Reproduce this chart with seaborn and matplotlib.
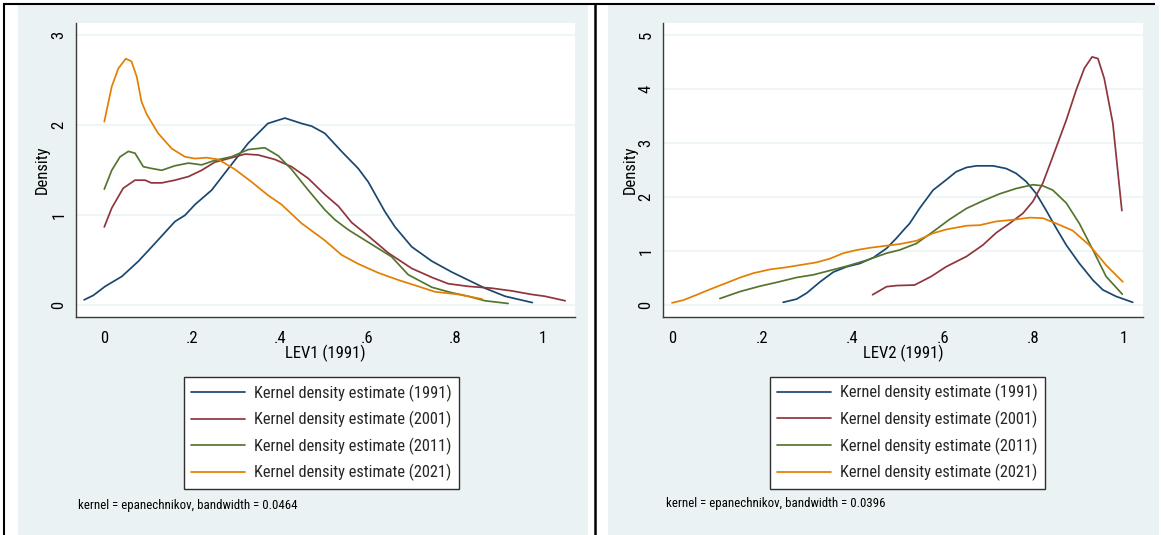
import matplotlib
matplotlib.use("Agg")
import matplotlib.pyplot as plt
from matplotlib.lines import Line2D
from matplotlib.patches import Rectangle
import pandas as pd
import seaborn as sns

# ---- data -------------------------------------------------------------
years = ["1991", "2001", "2011", "2021"]
colors = ["#1A476F", "#90353B", "#55752F", "#E37E00"]
legend_labels = [f"Kernel density estimate ({y})" for y in years]

x_ticks = [0, 0.2, 0.4, 0.6, 0.8, 1.0]
x_tick_labels = ["0", ".2", ".4", ".6", ".8", "1"]

# LEV1 (1991) densities
lev1_x_1991 = [-0.046, -0.025, 0.002, 0.040, 0.078, 0.116, 0.161, 0.184, 0.207, 0.245, 0.283,
               0.328, 0.373, 0.412, 0.450, 0.473, 0.503, 0.541, 0.579, 0.602, 0.640, 0.663,
               0.701, 0.747, 0.792, 0.830, 0.868, 0.914, 0.976]
lev1_y_1991 = [0.06, 0.11, 0.21, 0.32, 0.49, 0.69, 0.93, 1.00, 1.12, 1.28, 1.52,
               1.80, 2.02, 2.08, 2.02, 1.99, 1.91, 1.71, 1.52, 1.37, 1.04, 0.87,
               0.65, 0.49, 0.37, 0.28, 0.19, 0.10, 0.03]
lev1_x_2001 = [0.0, 0.017, 0.043, 0.070, 0.093, 0.107, 0.131, 0.161, 0.192, 0.222, 0.252,
               0.283, 0.321, 0.351, 0.389, 0.427, 0.465, 0.503, 0.534, 0.564, 0.602, 0.648,
               0.701, 0.747, 0.784, 0.830, 0.883, 0.929, 0.975, 1.005, 1.051]
lev1_y_2001 = [0.87, 1.08, 1.30, 1.39, 1.39, 1.36, 1.36, 1.39, 1.43, 1.50, 1.59,
               1.63, 1.68, 1.67, 1.62, 1.54, 1.41, 1.23, 1.10, 0.92, 0.77, 0.58,
               0.41, 0.31, 0.24, 0.21, 0.19, 0.16, 0.12, 0.10, 0.05]
lev1_x_2011 = [0.0, 0.017, 0.036, 0.055, 0.070, 0.089, 0.108, 0.131, 0.161, 0.192, 0.222,
               0.252, 0.290, 0.328, 0.366, 0.397, 0.427, 0.465, 0.503, 0.526, 0.556, 0.602,
               0.655, 0.693, 0.747, 0.792, 0.830, 0.868, 0.921]
lev1_y_2011 = [1.29, 1.50, 1.65, 1.71, 1.69, 1.54, 1.52, 1.50, 1.55, 1.58, 1.56,
               1.61, 1.65, 1.73, 1.75, 1.66, 1.51, 1.28, 1.06, 0.95, 0.84, 0.70,
               0.54, 0.34, 0.20, 0.14, 0.10, 0.05, 0.02]
lev1_x_2021 = [0.0, 0.017, 0.032, 0.049, 0.062, 0.074, 0.085, 0.097, 0.123, 0.154, 0.184,
               0.207, 0.233, 0.260, 0.298, 0.336, 0.374, 0.404, 0.450, 0.503, 0.541, 0.579,
               0.625, 0.671, 0.716, 0.754, 0.808, 0.861]
lev1_y_2021 = [2.04, 2.43, 2.63, 2.74, 2.71, 2.54, 2.26, 2.12, 1.91, 1.74, 1.65,
               1.63, 1.64, 1.62, 1.51, 1.37, 1.22, 1.12, 0.91, 0.72, 0.56, 0.46,
               0.36, 0.28, 0.21, 0.15, 0.12, 0.07]

# LEV2 (1991) densities
lev2_x_1991 = [0.246, 0.276, 0.298, 0.328, 0.357, 0.387, 0.416, 0.446, 0.475, 0.497, 0.516,
               0.526, 0.548, 0.578, 0.607, 0.629, 0.652, 0.674, 0.711, 0.740, 0.762, 0.784,
               0.806, 0.828, 0.851, 0.873, 0.902, 0.932, 0.954, 0.983, 1.020]
lev2_y_1991 = [0.05, 0.11, 0.22, 0.43, 0.61, 0.71, 0.77, 0.88, 1.05, 1.24, 1.42,
               1.51, 1.79, 2.13, 2.32, 2.47, 2.55, 2.58, 2.58, 2.53, 2.44, 2.29,
               2.07, 1.76, 1.42, 1.11, 0.77, 0.46, 0.28, 0.16, 0.05]
lev2_x_2001 = [0.444, 0.475, 0.497, 0.537, 0.574, 0.607, 0.652, 0.688, 0.718, 0.747, 0.777,
               0.799, 0.821, 0.843, 0.873, 0.895, 0.913, 0.930, 0.943, 0.957, 0.976, 0.996]
lev2_y_2001 = [0.19, 0.34, 0.36, 0.37, 0.53, 0.71, 0.90, 1.11, 1.34, 1.51, 1.70,
               1.92, 2.26, 2.75, 3.43, 3.99, 4.39, 4.60, 4.57, 4.20, 3.37, 1.75]
lev2_x_2011 = [0.106, 0.151, 0.195, 0.232, 0.276, 0.313, 0.350, 0.387, 0.431, 0.475, 0.504,
               0.541, 0.578, 0.615, 0.652, 0.688, 0.725, 0.762, 0.799, 0.821, 0.843, 0.873,
               0.902, 0.932, 0.961, 0.997]
lev2_y_2011 = [0.12, 0.25, 0.35, 0.42, 0.51, 0.56, 0.64, 0.72, 0.83, 0.96, 1.02,
               1.14, 1.36, 1.59, 1.79, 1.93, 2.06, 2.16, 2.23, 2.21, 2.13, 1.89,
               1.51, 1.02, 0.53, 0.20]
lev2_x_2021 = [0.0, 0.025, 0.055, 0.084, 0.121, 0.151, 0.180, 0.217, 0.254, 0.283, 0.320,
               0.350, 0.379, 0.409, 0.438, 0.475, 0.504, 0.541, 0.578, 0.607, 0.652, 0.681,
               0.718, 0.755, 0.792, 0.821, 0.851, 0.887, 0.924, 0.961, 0.998]
lev2_y_2021 = [0.04, 0.09, 0.19, 0.29, 0.41, 0.51, 0.59, 0.66, 0.70, 0.74, 0.79,
               0.86, 0.96, 1.02, 1.06, 1.10, 1.13, 1.19, 1.33, 1.40, 1.47, 1.48,
               1.55, 1.58, 1.62, 1.61, 1.51, 1.38, 1.11, 0.74, 0.43]

# ---- style ------------------------------------------------------------
sns.set_style("white")
plt.rcParams["font.family"] = ["Roboto Condensed", "Liberation Sans Narrow",
                               "DejaVu Sans Condensed", "Liberation Sans", "DejaVu Sans"]

BG = "#EAF2F3"
AXIS_COLOR = "#3A3A3A"
W, H = 1161, 535

fig = plt.figure(figsize=(W / 100, H / 100), dpi=100)
fig.patch.set_facecolor("white")


def fx(px):
    return px / W


def fy(py):
    return 1 - py / H


# graph-region backgrounds and outer frame
for x0, x1 in [(18.3, 588.3), (608.3, 1159.0)]:
    fig.add_artist(Rectangle((fx(x0), 0), fx(x1) - fx(x0), fy(5), transform=fig.transFigure,
                             facecolor=BG, edgecolor="none", zorder=0))
fig.add_artist(Line2D([fx(3), fx(1155)], [fy(4), fy(4)], transform=fig.transFigure,
                      color="black", lw=1.5, solid_capstyle="butt"))
fig.add_artist(Line2D([fx(4), fx(4)], [fy(3), 0], transform=fig.transFigure,
                      color="black", lw=1.5, solid_capstyle="butt"))
fig.add_artist(Line2D([fx(595), fx(595)], [fy(3), 0], transform=fig.transFigure,
                      color="black", lw=1.8, solid_capstyle="butt"))


def draw_panel(box, curves, xlim, ylim, yticks, xlabel, ylabel_x, legend_box, note, note_xy):
    left, top, right, bottom = box
    ax = fig.add_axes([fx(left), fy(bottom), fx(right) - fx(left), (bottom - top) / H])
    ax.set_facecolor("white")

    frames = [pd.DataFrame({"x": xs, "density": ys, "year": yr})
              for yr, (xs, ys) in zip(years, curves)]
    df = pd.concat(frames, ignore_index=True)
    sns.lineplot(data=df, x="x", y="density", hue="year", hue_order=years,
                 palette=dict(zip(years, colors)), estimator=None, sort=False,
                 lw=1.25, legend=False, ax=ax)

    ax.set_xlim(*xlim)
    ax.set_ylim(*ylim)
    ax.set_xticks(x_ticks)
    ax.set_xticklabels(x_tick_labels)
    ax.set_yticks(yticks)
    ax.set_yticklabels([str(t) for t in yticks])
    ax.yaxis.grid(True, color=BG, lw=1.1)
    ax.xaxis.grid(False)
    ax.set_axisbelow(True)
    for side in ("top", "right"):
        ax.spines[side].set_visible(False)
    for side in ("left", "bottom"):
        ax.spines[side].set_color(AXIS_COLOR)
        ax.spines[side].set_linewidth(1.0)
    ax.tick_params(axis="both", direction="out", length=4, width=1.0, color=AXIS_COLOR,
                   labelsize=12, labelcolor="black")
    ax.tick_params(axis="x", pad=6)
    ax.tick_params(axis="y", pad=3, labelrotation=90)
    for lab in ax.get_yticklabels():
        lab.set_va("center")

    ax.set_xlabel(xlabel, fontsize=12, color="black")
    ax.xaxis.set_label_coords(0.5, (bottom - 353) / (bottom - top))
    ax.xaxis.label.set_va("center")
    ax.set_ylabel("Density", fontsize=12, color="black")
    ax.yaxis.set_label_coords((ylabel_x - left) / (right - left), 0.5)
    ax.yaxis.label.set_va("center")

    handles = [Line2D([], [], color=c, lw=1.25) for c in colors]
    leg = fig.legend(handles, legend_labels, loc="upper left",
                     bbox_to_anchor=(fx(legend_box[0]), fy(legend_box[1])),
                     bbox_transform=fig.transFigure, borderaxespad=0,
                     fontsize=11.8, frameon=True, fancybox=False, shadow=False,
                     framealpha=1, handlelength=3.3, handletextpad=0.5,
                     labelspacing=0.57, borderpad=0.45)
    frame = leg.get_frame()
    frame.set_edgecolor("#2F2F2F")
    frame.set_linewidth(1.0)
    frame.set_facecolor("white")

    fig.text(fx(note_xy[0]), fy(note_xy[1]), note, fontsize=9.3, ha="left", va="center",
             color="black")
    return ax


draw_panel((76, 23.3, 575, 316.7),
           [(lev1_x_1991, lev1_y_1991), (lev1_x_2001, lev1_y_2001),
            (lev1_x_2011, lev1_y_2011), (lev1_x_2021, lev1_y_2021)],
           (-0.0645, 1.0734), (-0.127, 3.133), [0, 1, 2, 3], "LEV1 (1991)", 42,
           (184, 377), "kernel = epanechnikov, bandwidth = 0.0464", (78, 505.7))

draw_panel((663.3, 23.3, 1143, 316.7),
           [(lev2_x_1991, lev2_y_1991), (lev2_x_2001, lev2_y_2001),
            (lev2_x_2011, lev2_y_2011), (lev2_x_2021, lev2_y_2021)],
           (-0.0193, 1.0428), (-0.217, 5.223), [0, 1, 2, 3, 4, 5], "LEV2 (1991)", 630,
           (770, 376.7), "kernel = epanechnikov, bandwidth = 0.0396", (666, 504))

fig.savefig("out.png", dpi=100, facecolor="white")
